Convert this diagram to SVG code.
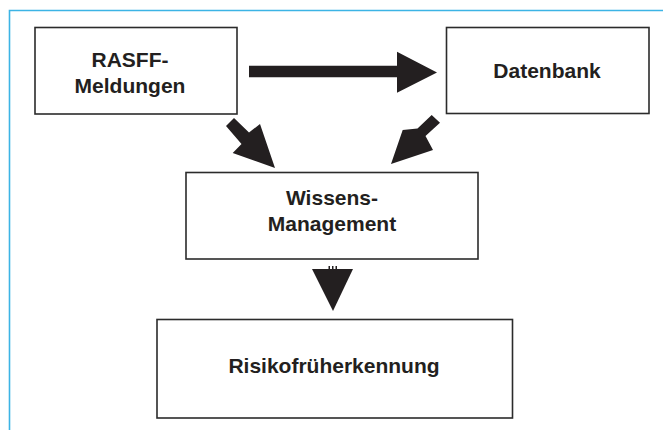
<svg xmlns="http://www.w3.org/2000/svg" width="663" height="430" viewBox="0 0 663 430">
<style>
.box{fill:#fff;stroke:#2b2b2b;stroke-width:1.6}
.lbl{font-family:"Liberation Sans",Arial,sans-serif;font-weight:bold;font-size:21px;fill:#231f20;text-anchor:middle}
.arr{fill:#231f20;stroke:none}
</style>
<rect width="663" height="430" fill="#fff"/>
<path d="M9.5 430 V10.5 H663" fill="none" stroke="#3cb4e5" stroke-width="1.6"/>
<g id="rasff">
<rect class="box" x="35" y="27.5" width="202" height="86.5"/>
<text class="lbl" x="130" y="66.5">RASFF-</text>
<text class="lbl" x="130" y="92.5">Meldungen</text>
</g>
<g id="datenbank">
<rect class="box" x="446.5" y="27.5" width="202.5" height="86"/>
<text class="lbl" x="547" y="78">Datenbank</text>
</g>
<g id="wissen">
<rect class="box" x="186" y="172.5" width="292" height="86.5"/>
<text class="lbl" x="332" y="205">Wissens-</text>
<text class="lbl" x="332" y="231">Management</text>
</g>
<g id="risiko">
<rect class="box" x="157" y="319.5" width="355.5" height="98.5"/>
<text class="lbl" x="334" y="373">Risikofrüherkennung</text>
</g>
<g id="connectors">
<polygon class="arr" points="249,65.7 397,65.7 397,51.7 437,72.5 397,92.7 397,77.3 249,77.3"/>
<polygon class="arr" points="226,126 234,118 249,132.5 260,124 275,168 232.7,153 241.5,144"/>
<polygon class="arr" points="440,122.7 431.7,115 417.5,128.5 402.7,130 391,164 433,150 425.5,136"/>
<polygon class="arr" points="312,269 353,269 333,311"/>
<path d="M328.5 267.5 H338.5" stroke="#231f20" stroke-width="3" stroke-dasharray="1.5 2" fill="none"/>
</g>
</svg>
